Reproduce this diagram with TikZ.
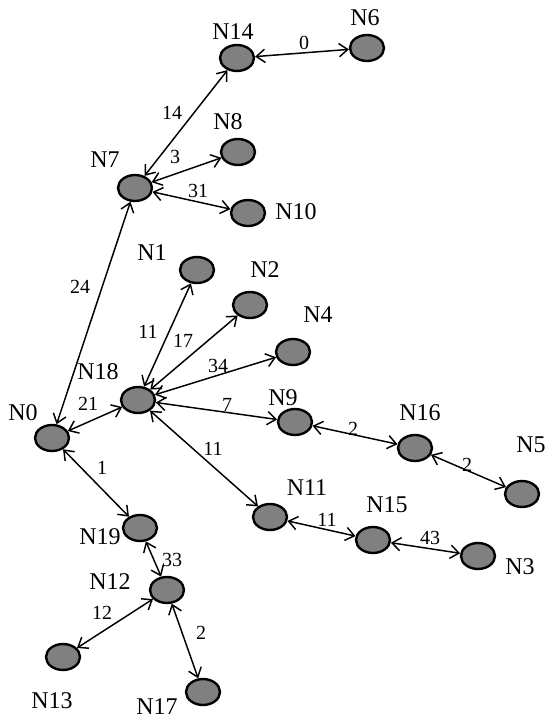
\documentclass[tikz,border=0pt]{standalone}
\usepackage{fontspec}
\setmainfont{Liberation Serif}
\usetikzlibrary{arrows.meta,shapes.geometric}
\begin{document}
\begin{tikzpicture}[x=0.75pt,y=-0.75pt,
  nd/.style={ellipse,draw=black,line width=1.8pt,fill=black!50,minimum width=25.5pt,minimum height=19.5pt,inner sep=0pt},
  nl/.style={font=\fontsize{18}{20}\selectfont,inner sep=0pt},
  el/.style={font=\fontsize{15}{17}\selectfont,inner sep=0pt},
  ln/.style={line width=1.1pt,{Straight Barb[length=6.5pt,width=10pt,line width=1.1pt]}-{Straight Barb[length=6.5pt,width=10pt,line width=1.1pt]}}]
\useasboundingbox (0,0) rectangle (547,721);
% nodes
\node[nd] (N14) at (237,58) {};
\node[nd] (N6) at (367,48) {};
\node[nd] (N8) at (238,152) {};
\node[nd] (N7) at (135,188) {};
\node[nd] (N10) at (248,213) {};
\node[nd] (N1) at (197,270) {};
\node[nd] (N2) at (250,305) {};
\node[nd] (N4) at (293,352) {};
\node[nd] (N18) at (138,400) {};
\node[nd] (N9) at (295,422) {};
\node[nd] (N16) at (415,448) {};
\node[nd] (N5) at (522,494) {};
\node[nd] (N0) at (52,438) {};
\node[nd] (N19) at (140,528) {};
\node[nd] (N11) at (270,517) {};
\node[nd] (N15) at (373,540) {};
\node[nd] (N3) at (478,556) {};
\node[nd] (N12) at (167,590) {};
\node[nd] (N13) at (63,657) {};
\node[nd] (N17) at (203,692) {};
% node labels
\node[nl] (tN14) at (233,32) {N14};
\node[nl] (tN6) at (365,18) {N6};
\node[nl] (tN8) at (228,122) {N8};
\node[nl] (tN7) at (105,160) {N7};
\node[nl] (tN10) at (296,212) {N10};
\node[nl] (tN1) at (152,253) {N1};
\node[nl] (tN2) at (265,270) {N2};
\node[nl] (tN4) at (318,315) {N4};
\node[nl] (tN18) at (98,372) {N18};
\node[nl] (tN9) at (283,398) {N9};
\node[nl] (tN16) at (420,413) {N16};
\node[nl] (tN5) at (531,445) {N5};
\node[nl] (tN0) at (23,413) {N0};
\node[nl] (tN19) at (100,537) {N19};
\node[nl] (tN11) at (307,488) {N11};
\node[nl] (tN15) at (387,505) {N15};
\node[nl] (tN3) at (520,567) {N3};
\node[nl] (tN12) at (110,582) {N12};
\node[nl] (tN13) at (52,701) {N13};
\node[nl] (tN17) at (157,707) {N17};
% edges
\draw[ln] (N14) -- (N6);
\draw[ln] (N7) -- (N14);
\draw[ln] (N7) -- (N8);
\draw[ln] (N7) -- (N10);
\draw[ln] (N0) -- (N7);
\draw[ln] (N18) -- (N1);
\draw[ln] (N18) -- (N2);
\draw[ln] (N18) -- (N4);
\draw[ln] (N18) -- (N9);
\draw[ln] (N0) -- (N18);
\draw[ln] (N18) -- (N11);
\draw[ln] (N9) -- (N16);
\draw[ln] (N16) -- (N5);
\draw[ln] (N0) -- (N19);
\draw[ln] (N11) -- (N15);
\draw[ln] (N15) -- (N3);
\draw[ln] (N19) -- (N12);
\draw[ln] (N12) -- (N13);
\draw[ln] (N12) -- (N17);
% edge labels
\node[el] (e1) at (304,43) {0};
\node[el] (e2) at (172,113) {14};
\node[el] (e3) at (175,157) {3};
\node[el] (e4) at (198,191) {31};
\node[el] (e5) at (80,287) {24};
\node[el] (e6) at (148,332) {11};
\node[el] (e7) at (183,341) {17};
\node[el] (e8) at (218,366) {34};
\node[el] (e9) at (88,404) {21};
\node[el] (e10) at (227,405) {7};
\node[el] (e11) at (213,449) {11};
\node[el] (e12) at (353,429) {2};
\node[el] (e13) at (467,465) {2};
\node[el] (e14) at (102,468) {1};
\node[el] (e15) at (327,520) {11};
\node[el] (e16) at (430,538) {43};
\node[el] (e17) at (172,560) {33};
\node[el] (e18) at (102,613) {12};
\node[el] (e19) at (201,633) {2};
\end{tikzpicture}
\end{document}
